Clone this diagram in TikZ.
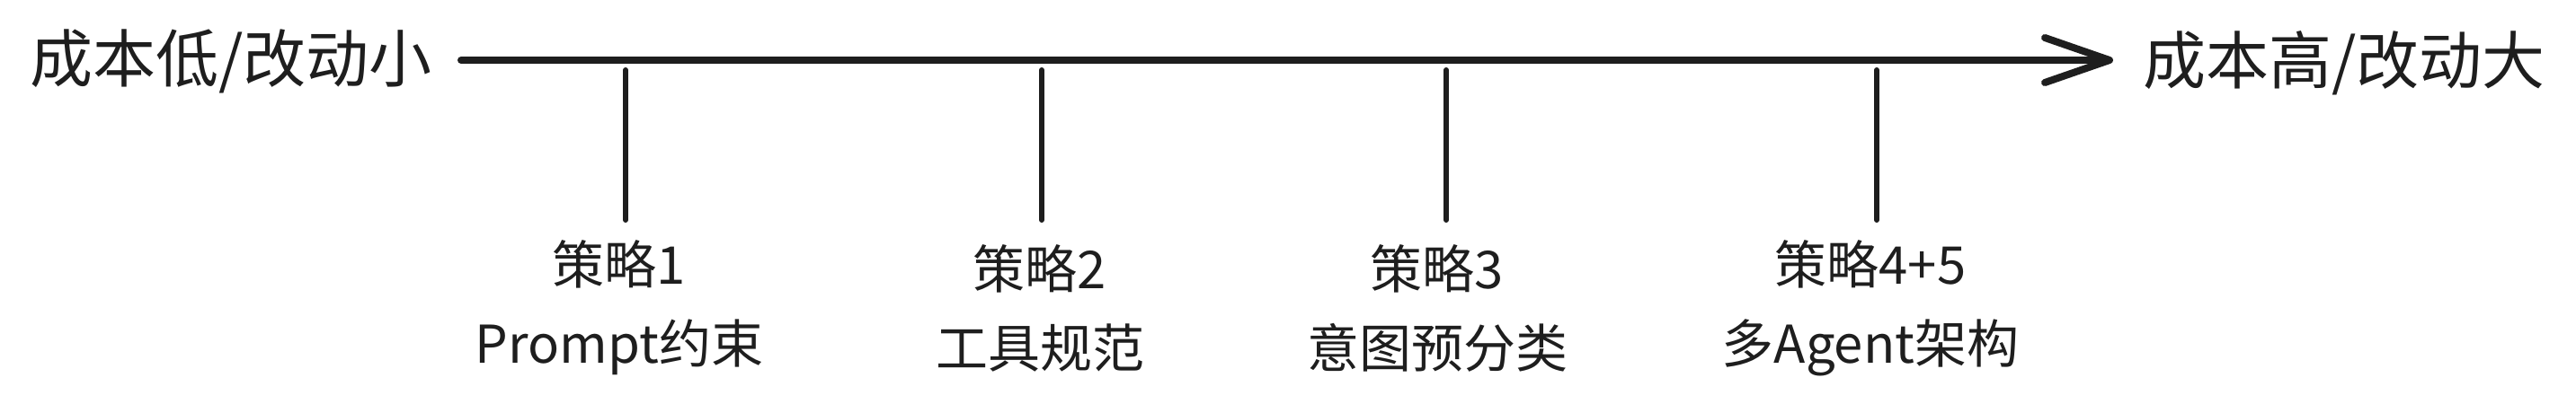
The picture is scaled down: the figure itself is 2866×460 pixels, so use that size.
\documentclass[tikz,border=0pt]{standalone}
\usepackage{fontspec}
\setmainfont{Noto Sans CJK SC}
\usetikzlibrary{arrows.meta}
\definecolor{ink}{HTML}{1E1E1E}
\tikzset{
  endlbl/.style={text=ink, inner sep=0pt, font={\fontsize{70}{76}\selectfont}},
  stratlbl/.style={text=ink, inner sep=0pt, align=center, font={\fontsize{58}{88}\selectfont}},
  axisline/.style={draw=ink, line width=8pt, line cap=round, -{Straight Barb[length=72pt,width=50pt,round]}},
  tickline/.style={draw=ink, line width=6pt, line cap=round},
}
\begin{document}
\begin{tikzpicture}[x=1pt,y=-1pt]
\useasboundingbox (0,0) rectangle (2866,460);
\node[endlbl] (lo) at (257,68) {成本低/改动小};
\node[endlbl] (hi) at (2608,70) {成本高/改动大};
\coordinate (s) at (513,67);
\coordinate (e) at (2351,67);
\draw[axisline] (s) -- (e);
\foreach \x/\n in {696/1,1159/2,1609/3,2088/4}{
  \coordinate (t\n) at (\x,78);
  \coordinate (b\n) at (\x,245);
  \draw[tickline] (t\n) -- (b\n);
}
\node[stratlbl] (l1) at (689,343) {策略1\\Prompt约束};
\node[stratlbl] (l2) at (1157,343) {策略2\\工具规范};
\node[stratlbl] (l3) at (1599,343) {策略3\\意图预分类};
\node[stratlbl] (l4) at (2081,343) {策略4+5\\多Agent架构};
\end{tikzpicture}
\end{document}
